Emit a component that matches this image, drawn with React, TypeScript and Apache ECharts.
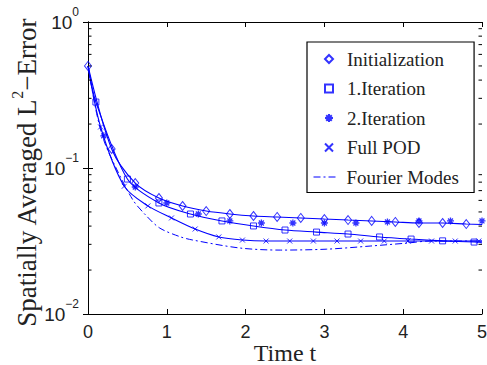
import React, { useEffect, useRef } from "react";
import * as echarts from "echarts";

// ---- data ----
const X_MIN = 0;
const X_MAX = 5;
const X_TICKS = [0, 1, 2, 3, 4, 5];
const Y_MIN = 0.01;
const Y_MAX = 1;
const Y_MINOR_TICKS = [0.02, 0.03, 0.04, 0.05, 0.06, 0.07, 0.08, 0.09, 0.2, 0.3, 0.4, 0.5, 0.6, 0.7, 0.8, 0.9];

const START_T = 0;
const START_V = 0.5;

// Initialization (diamonds)
const T_INIT = [0, 0.3, 0.6, 0.9, 1.2, 1.5, 1.8, 2.1, 2.4, 2.7, 3.0, 3.3, 3.6, 3.9, 4.2, 4.5, 4.8];
const V_INIT = [0.5, 0.135, 0.0789, 0.0623, 0.0549, 0.0507, 0.0484, 0.0469, 0.0462, 0.0455, 0.0447, 0.044, 0.0434, 0.0427, 0.042, 0.042, 0.0413];
const END_INIT = [5, 0.041];

// 1.Iteration (squares)
const T_IT1 = [0.1, 0.5, 0.9, 1.3, 1.7, 2.1, 2.5, 2.9, 3.3, 3.7, 4.1, 4.5, 4.9];
const V_IT1 = [0.283, 0.084, 0.0576, 0.0484, 0.0434, 0.0401, 0.0376, 0.0364, 0.0353, 0.0337, 0.0326, 0.0317, 0.0311];
const END_IT1 = [5, 0.031];

// 2.Iteration (asterisks, markers only)
const T_IT2 = [0.2, 0.6, 1.0, 1.4, 1.8, 2.2, 2.6, 3.0, 3.4, 3.8, 4.2, 4.6, 5.0];
const V_IT2 = [0.166, 0.0741, 0.0576, 0.0484, 0.0434, 0.042, 0.042, 0.042, 0.042, 0.0427, 0.0434, 0.0434, 0.0434];

// Full POD (crosses)
const T_POD = [0.16, 0.46, 0.76, 1.06, 1.36, 1.66, 1.96, 2.26, 2.56, 2.86, 3.16, 3.46, 3.76, 4.06, 4.36, 4.66, 4.96];
const V_POD = [0.191, 0.075, 0.055, 0.0455, 0.0382, 0.0337, 0.0321, 0.0316, 0.0316, 0.0316, 0.0316, 0.0316, 0.0316, 0.0316, 0.0316, 0.0316, 0.0316];
const END_POD = [5, 0.0316];

// Fourier Modes (dash-dot line)
const T_FOU = [0, 0.1, 0.2, 0.35, 0.57, 0.73, 0.91, 1.17, 1.33, 1.93, 2.44, 3.03, 3.58, 4.05, 4.34, 5.0];
const V_FOU = [0.5, 0.25, 0.155, 0.1016, 0.0604, 0.0477, 0.0388, 0.0338, 0.0321, 0.0283, 0.0274, 0.0278, 0.0292, 0.0306, 0.0316, 0.0316];

const BLUE = "#0000ff";
const SANS = "'Liberation Sans', Arial, Helvetica, sans-serif";
const SERIF = "'Liberation Serif', 'Times New Roman', serif";

const pairs = (t: number[], v: number[]) => t.map((x, i) => [x, v[i]]);

const ASTERISK = "path://M5,0L5,10M0,5L10,5M1.5,1.5L8.5,8.5M8.5,1.5L1.5,8.5";
const CROSS = "path://M0,0L10,10M10,0L0,10";
const DASHDOT: number[] = [7, 3, 2, 3];

export default function App() {
  const ref = useRef<HTMLDivElement>(null);

  useEffect(() => {
    if (!ref.current) return;
    document.body.style.margin = "0";
    document.body.style.overflow = "hidden";
    document.documentElement.style.overflow = "hidden";
    const chart = echarts.init(ref.current, undefined, { renderer: "svg", width: 487, height: 365 });

    const lineStyle = { color: BLUE, width: 1.1 };
    const hollow = { color: "rgba(0,0,0,0)", borderColor: BLUE, borderWidth: 1 };

    const yLabel = (v: number) => {
      const e = Math.round(Math.log10(v));
      const s = e < 0 ? "\u2212" + -e : String(e);
      return `{b|10}{s|${s}}`;
    };

    const option: any = {
      animation: false,
      backgroundColor: "#ffffff",
      grid: { left: 88, right: 5, top: 22, bottom: 51, containLabel: false, outerBoundsMode: "none" },
      xAxis: [
        {
          type: "value",
          min: X_MIN,
          max: X_MAX,
          interval: 1,
          position: "bottom",
          name: "Time t",
          nameLocation: "middle",
          nameGap: 27,
          nameMoveOverlap: false,
          nameTextStyle: { fontFamily: SERIF, fontSize: 24, lineHeight: 24, color: "#222" },
          axisLine: { show: true, lineStyle: { color: "#000", width: 1 } },
          axisTick: { show: true, inside: true, length: 5, lineStyle: { color: "#000" } },
          axisLabel: {
            margin: 9,
            fontFamily: SANS,
            fontSize: 18,
            color: "#222",
            formatter: (v: number) => (X_TICKS.includes(v) ? String(v) : ""),
          },
          splitLine: { show: false },
        },
        {
          type: "value",
          min: X_MIN,
          max: X_MAX,
          interval: 1,
          position: "top",
          axisLine: { show: true, lineStyle: { color: "#000", width: 1 } },
          axisTick: { show: true, inside: true, length: 5, lineStyle: { color: "#000" } },
          axisLabel: { show: false },
          splitLine: { show: false },
        },
      ],
      yAxis: [
        {
          type: "log",
          logBase: 10,
          min: Y_MIN,
          max: Y_MAX,
          position: "left",
          name: "{t|Spatially Averaged L}{s|2}{t|\u2212Error}",
          nameLocation: "middle",
          nameGap: 48,
          nameMoveOverlap: false,
          nameRotate: 90,
          nameTextStyle: {
            color: "#222",
            padding: [0, 10, 0, 0],
            rich: {
              t: { fontFamily: SERIF, fontSize: 27, lineHeight: 31, verticalAlign: "bottom", color: "#222" },
              s: { fontFamily: SERIF, fontSize: 16, lineHeight: 16, verticalAlign: "top", color: "#222" },
            },
          },
          axisLine: { show: true, lineStyle: { color: "#000", width: 1 } },
          axisTick: { show: true, inside: true, length: 5, lineStyle: { color: "#000" } },
          minorTick: { show: false },
          axisLabel: {
            margin: 9,
            padding: [0, 0, 6, 0],
            formatter: yLabel,
            rich: {
              b: { fontFamily: SANS, fontSize: 19, lineHeight: 26, verticalAlign: "bottom", color: "#222" },
              s: { fontFamily: SANS, fontSize: 12, lineHeight: 12, verticalAlign: "top", color: "#222" },
            },
          },
          splitLine: { show: false },
        },
        {
          type: "log",
          logBase: 10,
          min: Y_MIN,
          max: Y_MAX,
          position: "right",
          axisLine: { show: true, lineStyle: { color: "#000", width: 1 } },
          axisTick: { show: true, inside: true, length: 5, lineStyle: { color: "#000" } },
          axisLabel: { show: false },
          splitLine: { show: false },
        },
      ],
      legend: [
        {
          data: ["Initialization", "1.Iteration", "2.Iteration", "Full POD"],
          orient: "vertical",
          left: 307,
          top: 42,
          padding: [7, 30, 35, 17],
          itemWidth: 8,
          itemHeight: 8,
          itemGap: 9.5,
          backgroundColor: "#ffffff",
          borderColor: "#000",
          borderWidth: 1.2,
          selectedMode: false,
          textStyle: { fontFamily: SERIF, fontSize: 19, lineHeight: 20, color: "#222", padding: [0, 0, 0, 9] },
        },
        {
          data: ["Fourier Modes"],
          orient: "vertical",
          left: 313,
          top: 167,
          padding: 0,
          itemWidth: 25,
          itemHeight: 8,
          selectedMode: false,
          itemStyle: { opacity: 0 },
          lineStyle: { color: BLUE, width: 1, type: DASHDOT },
          textStyle: { fontFamily: SERIF, fontSize: 19, lineHeight: 20, color: "#222", padding: [0, 0, 0, 3] },
          z: 10,
        },
      ],
      series: [
        {
          name: "Initialization line",
          type: "line",
          data: pairs([...T_INIT, END_INIT[0]], [...V_INIT, END_INIT[1]]),
          smooth: 0.3,
          symbol: "none",
          lineStyle,
          z: 2,
        },
        {
          name: "1.Iteration line",
          type: "line",
          data: pairs([START_T, ...T_IT1, END_IT1[0]], [START_V, ...V_IT1, END_IT1[1]]),
          smooth: 0.3,
          symbol: "none",
          lineStyle,
          z: 2,
        },
        {
          name: "Full POD line",
          type: "line",
          data: pairs([START_T, ...T_POD, END_POD[0]], [START_V, ...V_POD, END_POD[1]]),
          smooth: 0.3,
          symbol: "none",
          lineStyle,
          z: 2,
        },
        {
          name: "Fourier Modes",
          type: "line",
          data: pairs(T_FOU, V_FOU),
          smooth: 0.3,
          symbol: "none",
          lineStyle: { color: BLUE, width: 1, type: DASHDOT },
          itemStyle: { color: BLUE },
          z: 2,
        },
        {
          name: "Initialization",
          type: "scatter",
          data: pairs(T_INIT, V_INIT),
          symbol: "diamond",
          symbolSize: [7, 9],
          itemStyle: hollow,
          z: 3,
        },
        {
          name: "1.Iteration",
          type: "scatter",
          data: pairs(T_IT1, V_IT1),
          symbol: "rect",
          symbolSize: 6,
          itemStyle: hollow,
          z: 3,
        },
        {
          name: "2.Iteration",
          type: "scatter",
          data: pairs(T_IT2, V_IT2),
          symbol: ASTERISK,
          symbolSize: 7,
          itemStyle: { color: "rgba(0,0,0,0)", borderColor: BLUE, borderWidth: 1.3 },
          z: 3,
        },
        {
          name: "Full POD",
          type: "scatter",
          data: pairs(T_POD, V_POD),
          symbol: CROSS,
          symbolSize: 5,
          itemStyle: hollow,
          z: 3,
        },
        {
          name: "minor ticks",
          type: "custom",
          silent: true,
          clip: false,
          data: Y_MINOR_TICKS.map((v) => [X_MIN, v]),
          encode: { x: 0, y: 1 },
          renderItem: (_p: any, api: any) => {
            const v = api.value(1);
            const l = api.coord([X_MIN, v]);
            const r = api.coord([X_MAX, v]);
            return {
              type: "group",
              children: [
                { type: "line", shape: { x1: l[0], y1: l[1], x2: l[0] + 3.5, y2: l[1] }, style: { stroke: "#000", lineWidth: 1 } },
                { type: "line", shape: { x1: r[0] - 3.5, y1: r[1], x2: r[0], y2: r[1] }, style: { stroke: "#000", lineWidth: 1 } },
              ],
            };
          },
          z: 4,
        },
      ],
    };

    chart.setOption(option);
    return () => chart.dispose();
  }, []);

  return (
    <div
      ref={ref}
      style={{ position: "fixed", left: 0, top: 0, width: 487, height: 365, overflow: "hidden", background: "#fff" }}
    />
  );
}
